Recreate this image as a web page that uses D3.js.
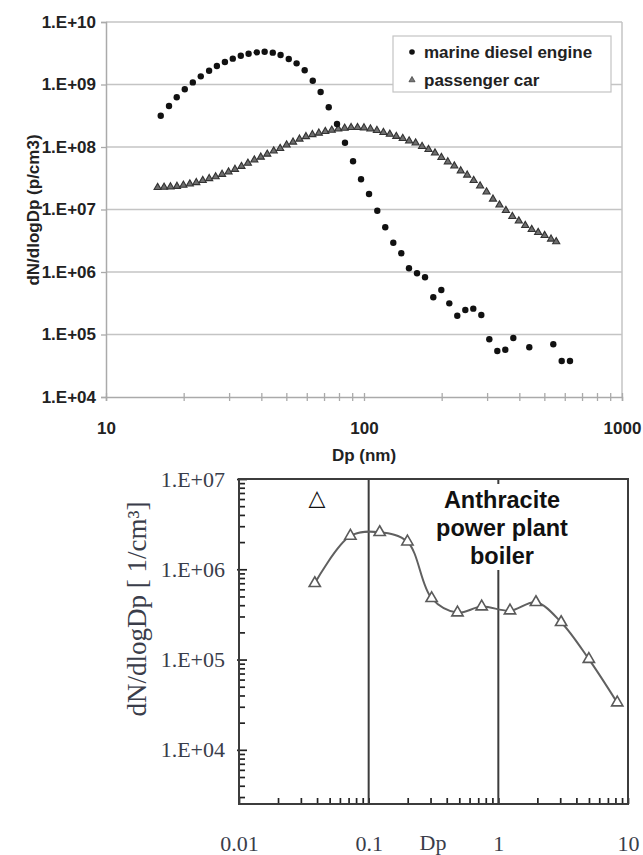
<!DOCTYPE html>
<html>
<head>
<meta charset="utf-8">
<script src="https://cdn.jsdelivr.net/npm/d3@7"></script>
<style>
  body { margin: 0; background: #fff; }
  svg { display: block; }
</style>
</head>
<body>
<svg id="chart" width="643" height="855"></svg>
<script>
// marine diesel engine (dots)
const dieselDp = [16.3, 17.55, 18.8, 20.2, 21.7, 23.3, 25.1, 26.9, 28.9, 31.0, 33.3, 35.7, 38.4, 41.2, 44.3, 47.5,
  51.1, 54.8, 58.9, 63.3, 67.9, 73.0, 78.6, 84.4, 90.7, 97.4, 104.6, 112.6, 120.9, 129.9, 139.5, 149.4,
  160.5, 172.4, 185.6, 199.4, 214.1, 229.9, 247.0, 265.2, 284.9, 306.0, 328.6, 352.9, 379.1, 437.2, 541.7, 583.9, 628.6];
const dieselN = [3.17e8, 4.53e8, 6.24e8, 8.38e8, 1.08e9, 1.35e9, 1.66e9, 1.98e9, 2.29e9, 2.59e9, 2.89e9, 3.11e9, 3.27e9, 3.35e9, 3.23e9, 2.96e9,
  2.56e9, 2.18e9, 1.69e9, 1.15e9, 7.59e8, 4.32e8, 2.33e8, 1.17e8, 5.91e7, 3.04e7, 1.77e7, 9.57e6, 5.19e6, 2.94e6, 1.99e6, 1.15e6,
  9.53e5, 8.22e5, 3.94e5, 5.15e5, 3.15e5, 2.0e5, 2.47e5, 2.59e5, 2.05e5, 8.38e4, 5.45e4, 5.71e4, 8.79e4, 6.24e4, 6.97e4, 3.77e4, 3.77e4];

// passenger car (small triangles)
const carDp = [15.85, 16.79, 17.78, 18.84, 19.95, 21.13, 22.39, 23.71, 25.12, 26.61, 28.18, 29.85, 31.62, 33.50, 35.48, 37.58,
  39.81, 42.17, 44.67, 47.32, 50.12, 53.09, 56.23, 59.57, 63.10, 66.83, 70.79, 74.99, 79.43, 84.14, 89.13, 94.41,
  100, 105.9, 112.2, 118.9, 125.9, 133.4, 141.3, 149.6, 158.5, 167.9, 177.8, 188.4, 199.5, 211.3, 223.9, 237.1,
  251.2, 266.1, 281.8, 298.5, 316.2, 335.0, 354.8, 375.8, 398.1, 421.7, 446.7, 473.2, 501.2, 530.9, 555.9];
const carN = [2.25e7, 2.27e7, 2.31e7, 2.35e7, 2.45e7, 2.56e7, 2.70e7, 2.91e7, 3.13e7, 3.34e7, 3.66e7, 3.98e7, 4.40e7, 4.90e7, 5.50e7, 6.20e7,
  6.90e7, 7.70e7, 8.63e7, 9.46e7, 1.08e8, 1.20e8, 1.34e8, 1.47e8, 1.58e8, 1.67e8, 1.77e8, 1.86e8, 1.94e8, 2.00e8, 2.05e8, 2.05e8,
  2.03e8, 1.95e8, 1.84e8, 1.71e8, 1.60e8, 1.48e8, 1.37e8, 1.25e8, 1.16e8, 1.02e8, 9.12e7, 8.02e7, 6.79e7, 5.80e7, 4.97e7, 4.16e7,
  3.56e7, 2.91e7, 2.38e7, 1.91e7, 1.47e7, 1.18e7, 9.64e6, 7.73e6, 6.55e6, 5.55e6, 4.79e6, 4.29e6, 3.84e6, 3.37e6, 3.05e6];

// anthracite power plant boiler (Dp in um)
const boilerDp = [0.0384, 0.0723, 0.1216, 0.199, 0.306, 0.484, 0.744, 1.23, 1.95, 3.05, 4.99, 8.26];
const boilerN = [7.0e5, 2.34e6, 2.57e6, 2.02e6, 4.77e5, 3.31e5, 3.86e5, 3.48e5, 4.31e5, 2.59e5, 1.01e5, 3.33e4];

const topYTicks = [1e4, 1e5, 1e6, 1e7, 1e8, 1e9, 1e10];
const topXLabels = [10, 100, 1000];
const botYTicks = [1e4, 1e5, 1e6, 1e7];
const botXLabels = [0.01, 0.1, 1, 10];
const legendNames = ["marine diesel engine", "passenger car"];

const expFmt = d => "1.E+" + String(Math.round(Math.log10(d))).padStart(2, "0");
const logMinors = (lo, hi) => {
  const out = [];
  for (let e = Math.floor(Math.log10(lo)); e < Math.log10(hi); e++) {
    for (let m = 1; m < 10; m++) {
      const v = +(m * Math.pow(10, e)).toPrecision(6);
      if (v >= lo * 0.999 && v <= hi * 1.001) out.push(v);
    }
  }
  if (!out.includes(hi)) out.push(hi);
  return out;
};

const svg = d3.select("#chart");
svg.append("rect").attr("width", 643).attr("height", 855).attr("fill", "#fff");

// ---------- top chart ----------
const x1 = d3.scaleLog().domain([10, 1000]).range([106, 622]);
const y1 = d3.scaleLog().domain([1e4, 1e10]).range([397, 22]);
const topG = svg.append("g");
const sans = "Liberation Sans, Arial, sans-serif";

topG.selectAll("line.grid")
  .data(topYTicks.slice(1))
  .enter().append("line")
  .attr("class", "grid")
  .attr("x1", 106).attr("x2", 622)
  .attr("y1", d => y1(d)).attr("y2", d => y1(d))
  .attr("stroke", "#c4c4c4").attr("stroke-width", 1.5);

topG.append("line")
  .attr("x1", 622).attr("x2", 622).attr("y1", 22).attr("y2", 397)
  .attr("stroke", "#c4c4c4").attr("stroke-width", 1.5);

const yAx1 = topG.append("g")
  .attr("transform", "translate(106,0)")
  .call(d3.axisLeft(y1).tickValues(topYTicks).tickFormat(expFmt).tickSize(5).tickPadding(5));
yAx1.select(".domain").attr("stroke", "#aaa").attr("stroke-width", 1.5);
yAx1.selectAll(".tick line").attr("stroke", "#aaa").attr("stroke-width", 1.3);
yAx1.selectAll("text").attr("font-family", sans).attr("font-weight", "bold")
  .attr("font-size", 17).attr("fill", "#222");

const xAx1 = topG.append("g")
  .attr("transform", "translate(0,397)")
  .call(d3.axisBottom(x1).tickValues(logMinors(10, 1000))
    .tickFormat(d => topXLabels.includes(d) ? String(d) : "")
    .tickSize(4).tickPadding(21));
xAx1.select(".domain").attr("stroke", "#aaa").attr("stroke-width", 1.5);
xAx1.selectAll(".tick line").attr("y1", -4).attr("stroke", "#aaa").attr("stroke-width", 1.3);
xAx1.selectAll("text").attr("font-family", sans).attr("font-weight", "bold")
  .attr("font-size", 17).attr("fill", "#222");

topG.append("text")
  .attr("x", 364).attr("y", 461)
  .attr("text-anchor", "middle")
  .attr("font-family", sans).attr("font-weight", "bold").attr("font-size", 17).attr("fill", "#222")
  .text("Dp (nm)");

topG.append("text")
  .attr("transform", "translate(39,210) rotate(-90)")
  .attr("text-anchor", "middle")
  .attr("font-family", sans).attr("font-weight", "bold").attr("font-size", 17).attr("fill", "#222")
  .text("dN/dlogDp (p/cm3)");

const tri = d3.symbol().type(d3.symbolTriangle);

topG.selectAll("path.car")
  .data(carDp)
  .enter().append("path")
  .attr("class", "car")
  .attr("d", tri.size(22)())
  .attr("transform", (d, i) => `translate(${x1(d)},${y1(carN[i])})`)
  .attr("fill", "#6e6e6e").attr("stroke", "#333").attr("stroke-width", 1.1);

topG.selectAll("circle.diesel")
  .data(dieselDp)
  .enter().append("circle")
  .attr("class", "diesel")
  .attr("cx", d => x1(d))
  .attr("cy", (d, i) => y1(dieselN[i]))
  .attr("r", 3.2)
  .attr("fill", "#111");

// legend
const leg = topG.append("g");
leg.append("rect")
  .attr("x", 393).attr("y", 36).attr("width", 218).attr("height", 56)
  .attr("fill", "#fff").attr("stroke", "#c4c4c4").attr("stroke-width", 1.2);
leg.append("circle").attr("cx", 412).attr("cy", 52).attr("r", 2.8).attr("fill", "#111");
leg.append("path").attr("d", tri.size(16)()).attr("transform", "translate(412,80)")
  .attr("fill", "#777").attr("stroke", "#444").attr("stroke-width", 0.8);
leg.selectAll("text")
  .data(legendNames)
  .enter().append("text")
  .attr("x", 424).attr("y", (d, i) => 58 + i * 28)
  .attr("font-family", sans).attr("font-weight", "bold").attr("font-size", 17).attr("fill", "#222")
  .text(d => d);

// ---------- bottom chart ----------
const x2 = d3.scaleLog().domain([0.01, 10]).range([239, 628]);
const y2 = d3.scaleLog().domain([Math.pow(10, 3.4), 1e7]).range([804, 479]);
const botG = svg.append("g");
const serif = "Liberation Serif, Times New Roman, serif";
const ink = "#3a3d4a";

const yAx2 = botG.append("g")
  .attr("transform", "translate(239,0)")
  .call(d3.axisLeft(y2).tickValues(logMinors(Math.pow(10, 3.4), 1e7))
    .tickFormat(d => botYTicks.includes(d) ? expFmt(d) : "")
    .tickSize(-6).tickPadding(14));
yAx2.select(".domain").remove();
yAx2.selectAll(".tick line").attr("stroke", "#222").attr("stroke-width", 1.7)
  .attr("x1", d => botYTicks.includes(d) ? -2 : 0)
  .attr("x2", d => botYTicks.includes(d) ? 8 : 6);
yAx2.selectAll("text").attr("font-family", serif).attr("font-size", 22).attr("fill", ink);

const xAx2 = botG.append("g")
  .attr("transform", "translate(0,804)")
  .call(d3.axisBottom(x2).tickValues(logMinors(0.01, 10))
    .tickFormat(d => botXLabels.includes(d) ? String(d) : "")
    .tickSize(-6).tickPadding(31));
xAx2.select(".domain").remove();
xAx2.selectAll(".tick line").attr("stroke", "#222").attr("stroke-width", 1.7);
xAx2.selectAll("text").attr("font-family", serif).attr("font-size", 22).attr("fill", ink);

botG.append("rect")
  .attr("x", 239).attr("y", 479).attr("width", 389).attr("height", 325)
  .attr("fill", "none").attr("stroke", "#3c3c3c").attr("stroke-width", 2);

// vertical reference lines at 0.1 and 1 um
botG.append("line")
  .attr("x1", x2(0.1)).attr("x2", x2(0.1)).attr("y1", 479).attr("y2", 804)
  .attr("stroke", "#3c3c3c").attr("stroke-width", 2);
botG.append("line")
  .attr("x1", x2(1)).attr("x2", x2(1)).attr("y1", 570).attr("y2", 804)
  .attr("stroke", "#3c3c3c").attr("stroke-width", 2);
botG.append("line")
  .attr("x1", x2(1)).attr("x2", x2(1)).attr("y1", 479).attr("y2", 484)
  .attr("stroke", "#3c3c3c").attr("stroke-width", 2);

const line2 = d3.line()
  .x(d => x2(d[0])).y(d => y2(d[1]))
  .curve(d3.curveCatmullRom.alpha(0.5));
botG.append("path")
  .datum(boilerDp.map((d, i) => [d, boilerN[i]]))
  .attr("d", line2)
  .attr("fill", "none").attr("stroke", "#606060").attr("stroke-width", 2);

botG.selectAll("path.boiler")
  .data(boilerDp)
  .enter().append("path")
  .attr("class", "boiler")
  .attr("d", tri.size(55)())
  .attr("transform", (d, i) => `translate(${x2(d)},${y2(boilerN[i])})`)
  .attr("fill", "#fff").attr("stroke", "#5a5a5a").attr("stroke-width", 1.6);

botG.append("text")
  .attr("x", 433).attr("y", 850)
  .attr("text-anchor", "middle")
  .attr("font-family", serif).attr("font-size", 22).attr("fill", ink)
  .text("Dp");

botG.append("text")
  .attr("transform", "translate(146,609) rotate(-90)")
  .attr("text-anchor", "middle")
  .attr("font-family", serif).attr("font-size", 27).attr("fill", ink)
  .text("dN/dlogDp [ 1/cm³]");

botG.append("text")
  .attr("x", 317).attr("y", 505)
  .attr("text-anchor", "middle")
  .attr("font-family", "DejaVu Sans, sans-serif").attr("font-size", 22).attr("fill", "#111")
  .text("△");

botG.selectAll("text.ann")
  .data(["Anthracite", "power plant", "boiler"])
  .enter().append("text")
  .attr("class", "ann")
  .attr("x", 502).attr("y", (d, i) => 508 + i * 28)
  .attr("text-anchor", "middle")
  .attr("font-family", sans).attr("font-weight", "bold").attr("font-size", 23.5).attr("fill", "#111")
  .text(d => d);
</script>
</body>
</html>
